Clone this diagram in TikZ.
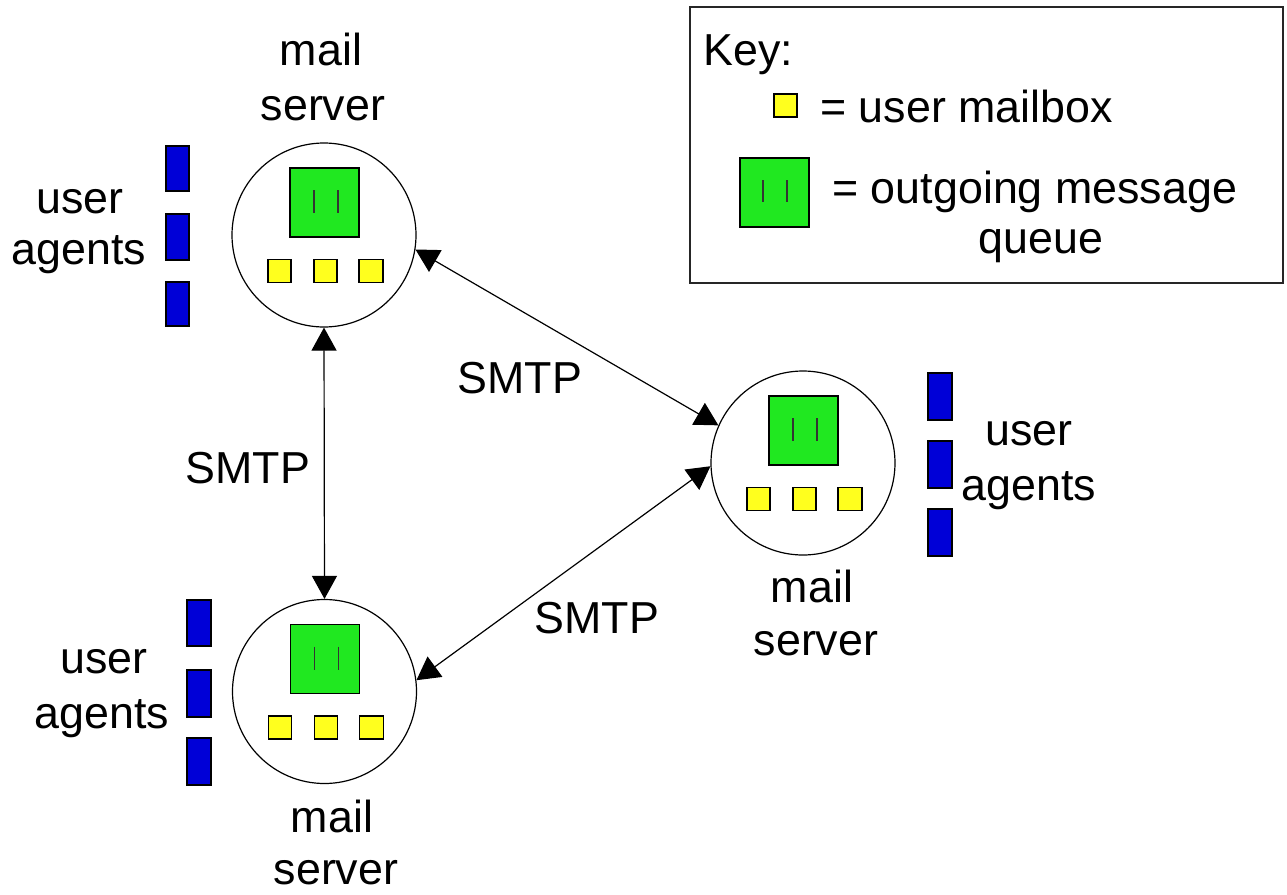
\documentclass[tikz,border=0pt]{standalone}
\usepackage{fontspec}
\setmainfont{Liberation Sans}
\usetikzlibrary{arrows.meta}
\definecolor{qgreen}{RGB}{32,232,32}
\definecolor{myellow}{RGB}{255,255,30}
\definecolor{ablue}{RGB}{0,0,215}
\newcommand\srvcontent[1]{%
  \begin{scope}[shift={(#1.center)}]
    \draw[queuebox] (-34,-67) rectangle (35,2);
    \draw[qline] (-10,-45) -- (-10,-22);
    \draw[qline] (14,-45) -- (14,-22);
    \draw[mbox] (-56,24.5) rectangle (-33,47.5);
    \draw[mbox] (-10,24.5) rectangle (13,47.5);
    \draw[mbox] (35,24.5) rectangle (59,47.5);
  \end{scope}}
\begin{document}
\begin{tikzpicture}[x=0.5pt,y=-0.5pt,
  lbl/.style={font=\fontsize{22.4}{26}\selectfont, anchor=base, inner sep=0pt},
  lblw/.style={lbl, anchor=base west},
  srv/.style={circle, draw, line width=0.6pt, minimum size=92pt, inner sep=0pt},
  queuebox/.style={draw, line width=0.8pt, fill=qgreen},
  qline/.style={draw=black!80, line width=0.9pt},
  mbox/.style={draw, line width=0.8pt, fill=myellow},
  agent/.style={draw, line width=0.6pt, fill=ablue},
  link/.style={line width=0.6pt, {Triangle[length=11.5pt,width=12.5pt]}-{Triangle[length=11.5pt,width=12.5pt]}}]
\useasboundingbox (0,0) rectangle (1287,895);

% servers
\node[srv] (s1) at (324,235) {};
\node[srv] (s3) at (803,463) {};
\node[srv] (s2) at (324.5,691.5) {};
\srvcontent{s1}
\srvcontent{s3}
\srvcontent{s2}

% user agents bars
\draw[agent] (166,146) rectangle (189,191);
\draw[agent] (166,214) rectangle (189,260);
\draw[agent] (166,282) rectangle (189,326);
\draw[agent] (928,373) rectangle (952,420);
\draw[agent] (928,441) rectangle (952,488);
\draw[agent] (928,509) rectangle (952,556);
\draw[agent] (187,600) rectangle (211,646);
\draw[agent] (187,670) rectangle (211,717);
\draw[agent] (187,738) rectangle (211,785);

% labels
\node[lbl] (m1a) at (321,65) {mail};
\node[lbl] (m1b) at (323,120) {server};
\node[lbl] (u1a) at (80,213) {user};
\node[lbl] (u1b) at (79,264) {agents};
\node[lbl] (u3a) at (1029,445) {user};
\node[lbl] (u3b) at (1029,500) {agents};
\node[lbl] (m3a) at (812,602) {mail};
\node[lbl] (m3b) at (816,655) {server};
\node[lbl] (u2a) at (104,673) {user};
\node[lbl] (u2b) at (102,728) {agents};
\node[lbl] (m2a) at (332,832) {mail};
\node[lbl] (m2b) at (336,884) {server};

% links
\draw[link] (s1.south) -- (s2.north);
\draw[link] (s1.-9.7) -- (s3.156.6);
\draw[link] (s3.182.5) -- (s2.7.1);
\node[lbl] (smtp1) at (248,483) {SMTP};
\node[lbl] (smtp2) at (520,393) {SMTP};
\node[lbl] (smtp3) at (597,633) {SMTP};

% key
\draw[line width=0.8pt, draw=black!85] (690,7) rectangle (1283,283);
\node[lblw] (key) at (703,65) {Key:};
\draw[mbox] (774,94) rectangle (797,117);
\node[lblw] (kmb) at (820,122) {= user mailbox};
\draw[queuebox] (740,158) rectangle (809,227);
\draw[qline] (763,180) -- (763,202);
\draw[qline] (787,180) -- (787,202);
\node[lblw] (kq) at (832,203) {= outgoing message};
\node[lbl] (kq2) at (1041,253) {queue};
\end{tikzpicture}
\end{document}
